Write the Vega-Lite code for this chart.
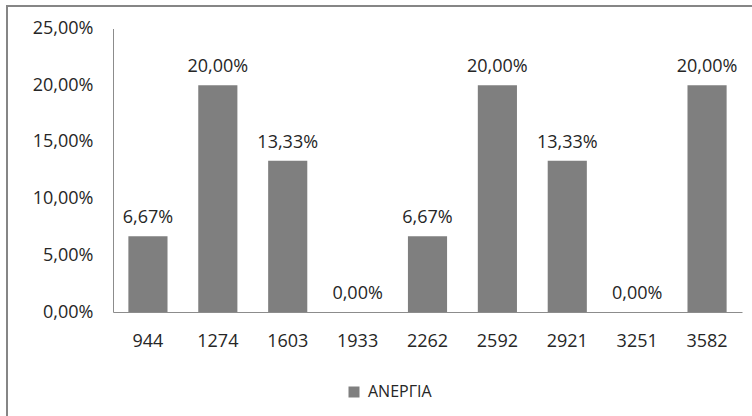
{
  "$schema": "https://vega.github.io/schema/vega-lite/v6.json",
  "autosize": {"type": "none"},
  "padding": {"left": 7, "top": 6, "right": -2, "bottom": -2},
  "width": 747,
  "height": 412,
  "background": "white",
  "data": {
    "values": [
      {"bin": "944", "value": 0.0667, "series": "ΑΝΕΡΓΙΑ"},
      {"bin": "1274", "value": 0.2, "series": "ΑΝΕΡΓΙΑ"},
      {"bin": "1603", "value": 0.1333, "series": "ΑΝΕΡΓΙΑ"},
      {"bin": "1933", "value": 0, "series": "ΑΝΕΡΓΙΑ"},
      {"bin": "2262", "value": 0.0667, "series": "ΑΝΕΡΓΙΑ"},
      {"bin": "2592", "value": 0.2, "series": "ΑΝΕΡΓΙΑ"},
      {"bin": "2921", "value": 0.1333, "series": "ΑΝΕΡΓΙΑ"},
      {"bin": "3251", "value": 0, "series": "ΑΝΕΡΓΙΑ"},
      {"bin": "3582", "value": 0.2, "series": "ΑΝΕΡΓΙΑ"}
    ]
  },
  "encoding": {
    "x": {
      "field": "bin",
      "type": "nominal",
      "sort": null,
      "scale": {"range": [106, 735], "paddingInner": 0.44, "paddingOuter": 0.22},
      "axis": {
        "title": null,
        "offset": -106,
        "labelAngle": 0,
        "labelPadding": 20,
        "ticks": false,
        "domainColor": "#8c8c8c",
        "domainWidth": 1
      }
    },
    "y": {
      "field": "value",
      "type": "quantitative",
      "scale": {"domain": [0, 0.25], "range": [306, 22.5], "nice": false},
      "axis": {
        "title": null,
        "offset": -106,
        "values": [0, 0.05, 0.1, 0.15, 0.2, 0.25],
        "format": ".2%",
        "grid": false,
        "ticks": false,
        "labelPadding": 20,
        "domainColor": "#8c8c8c",
        "domainWidth": 1
      }
    }
  },
  "layer": [
    {
      "mark": {"type": "bar", "color": "#7f7f7f"},
      "encoding": {
        "color": {
          "field": "series",
          "type": "nominal",
          "scale": {"range": ["#7f7f7f"]},
          "legend": {
            "title": null,
            "orient": "none",
            "legendX": 339,
            "legendY": 378,
            "padding": 0,
            "symbolType": "square",
            "symbolSize": 121,
            "symbolStrokeWidth": 0,
            "labelOffset": 6,
            "labelFontSize": 16
          }
        }
      }
    },
    {
      "mark": {"type": "text", "baseline": "alphabetic", "dy": -13, "color": "#262626"},
      "encoding": {
        "text": {"field": "value", "type": "quantitative", "format": ".2%"}
      }
    }
  ],
  "config": {
    "locale": {
      "number": {"decimal": ",", "thousands": ".", "grouping": [3], "currency": ["", " €"]}
    },
    "view": {"stroke": "#868686", "strokeWidth": 2, "fill": "white"},
    "font": "Open Sans",
    "text": {"font": "Open Sans", "fontSize": 18},
    "axis": {"labelFont": "Open Sans", "labelFontSize": 18, "labelColor": "#262626"},
    "legend": {"labelFont": "Open Sans", "labelColor": "#262626"}
  }
}
